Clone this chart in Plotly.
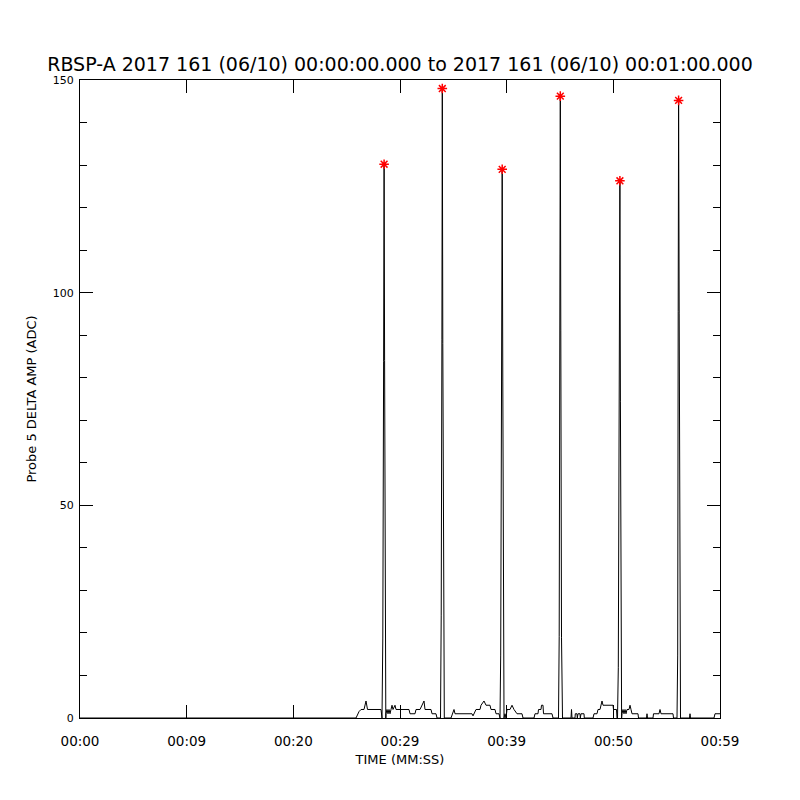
import plotly.graph_objects as go

# Time in seconds since 00:00:00 and Probe 5 delta amplitude (ADC)
time_s = [0.0, 25.875, 26.156, 26.344, 26.625, 26.813, 26.953, 28.219, 28.313,
          28.388, 28.463, 28.509, 28.556, 28.613, 28.669,
          28.688, 28.781, 28.875, 28.969, 29.063, 29.156, 29.25, 29.344, 29.531, 29.625,
          30.844, 30.938, 31.406, 31.5, 31.875, 32.25, 32.344, 32.906, 33.0, 33.375, 33.469,
          33.797, 33.863, 33.928, 33.966, 34.013, 34.088, 34.153,
          34.781, 35.063, 35.156, 36.75, 36.844, 36.938, 37.125, 37.5, 37.594, 37.875,
          38.063, 38.438, 38.531, 38.906, 39.0, 39.281, 39.375,
          39.441, 39.516, 39.581, 39.638, 39.684, 39.75,
          39.844, 39.938, 40.031, 40.313, 40.5, 40.688, 40.969, 41.438, 41.531,
          42.563, 42.656, 42.938, 42.984, 43.219, 43.266, 43.406, 43.453, 44.25, 44.344,
          44.859, 44.925, 44.981, 45.028, 45.075, 45.141, 45.234,
          46.031, 46.078, 46.125, 46.406, 46.434, 46.594, 46.622, 46.688, 46.875, 46.903,
          46.969, 47.25, 47.278,
          48.094, 48.188, 48.469, 48.563, 48.75, 48.938, 49.031, 49.969, 50.016, 50.297, 50.344,
          50.391, 50.466, 50.541, 50.616, 50.663, 50.7, 50.775,
          50.813, 50.906, 51.0, 51.094, 51.188, 51.281, 51.469, 51.563, 51.656, 51.75,
          52.313, 52.359, 53.109, 53.156, 53.203, 53.719, 53.766, 54.281, 54.375, 54.469,
          55.594, 55.641,
          55.969, 56.034, 56.081, 56.119, 56.175, 56.231, 56.297,
          57.141, 57.188, 57.234, 59.438, 59.531, 60.0]

amp_adc = [0, 0, 1.5, 2, 2, 4, 2, 2, 0,
           18.8, 83.9, 130.2, 84, 18, 0,
           1, 2, 1, 2, 1, 2, 3, 2, 3, 2,
           2, 1, 1, 2, 2, 4, 2, 2, 1, 1, 0,
           0, 24, 88.9, 148.0, 88, 14.8, 0,
           0, 2, 1, 1, 0.5, 1, 2, 2, 3, 4,
           3, 3, 2, 2, 1, 1, 0,
           14.8, 79.2, 129.0, 79, 20.7, 0,
           1, 0, 2, 2, 3, 2, 1, 1, 0,
           0, 1, 1, 2, 2, 3, 3, 1, 1, 0,
           0, 19.1, 91.7, 146.2, 91, 19, 0,
           0, 2, 0, 0, 1, 1, 0, 1, 1, 0,
           1, 1, 0,
           0, 1, 1, 2, 2, 4, 3, 3, 2, 2, 0,
           0, 11.8, 74.8, 126.3, 74.5, 24.7, 0,
           1, 2, 1, 2, 1, 2, 2, 3, 2, 1,
           1, 0, 0, 1, 0, 0, 1, 1, 2, 1,
           1, 0,
           0, 14.8, 95.5, 145.2, 95, 22.6, 0,
           0, 1, 0, 0, 1, 1]

# Detected peaks
peak_t = [28.509, 33.966, 39.581, 45.028, 50.616, 56.119]
peak_v = [130.2, 148.0, 129.0, 146.2, 126.3, 145.2]

x_tickvals = [0, 10, 20, 30, 40, 50, 60]
x_ticktext = ["00:00", "00:09", "00:20", "00:29", "00:39", "00:50", "00:59"]
y_tickvals = [0, 50, 100, 150]

title_text = "RBSP-A 2017 161 (06/10) 00:00:00.000 to 2017 161 (06/10) 00:01:00.000"

fig = go.Figure()
fig.add_trace(go.Scatter(x=time_s, y=amp_adc, mode="lines",
                         line=dict(color="black", width=1), hoverinfo="skip"))
fig.add_trace(go.Scatter(x=peak_t, y=peak_v, mode="markers",
                         marker=dict(symbol="asterisk-open", size=8,
                                     line=dict(color="#ff0000", width=1.5),
                                     color="#ff0000")))

font_family = "DejaVu Sans"
fig.update_layout(
    width=800, height=800,
    margin=dict(l=72, r=88, t=72, b=90),
    paper_bgcolor="white", plot_bgcolor="white",
    showlegend=False,
    font=dict(family=font_family, color="black"),
    title=dict(text=title_text, x=0.49, xanchor="center", y=1 - 56 / 800,
               yanchor="middle", yref="container",
               font=dict(size=19, family=font_family, color="black")),
)
fig.update_xaxes(range=[0, 60], tickvals=x_tickvals, ticktext=x_ticktext,
                 showgrid=False, zeroline=False, showline=True, linecolor="black",
                 linewidth=1, mirror="ticks", ticks="inside", ticklen=13,
                 tickcolor="black", tickwidth=1, ticklabelstandoff=11,
                 tickfont=dict(size=13.5, family=font_family),
                 title=dict(text="TIME (MM:SS)", font=dict(size=13, family=font_family),
                            standoff=6))
fig.update_yaxes(range=[0, 150], tickvals=y_tickvals,
                 showgrid=False, zeroline=False, showline=True, linecolor="black",
                 linewidth=1, mirror="ticks", ticks="inside", ticklen=13,
                 tickcolor="black", tickwidth=1, ticklabelstandoff=3,
                 tickfont=dict(size=11, family=font_family),
                 minor=dict(dtick=10, ticks="inside", ticklen=7, tickcolor="black",
                            tickwidth=1, showgrid=False),
                 title=dict(text="Probe 5 DELTA AMP (ADC)",
                            font=dict(size=13, family=font_family), standoff=13))

fig.write_html("out.html")
